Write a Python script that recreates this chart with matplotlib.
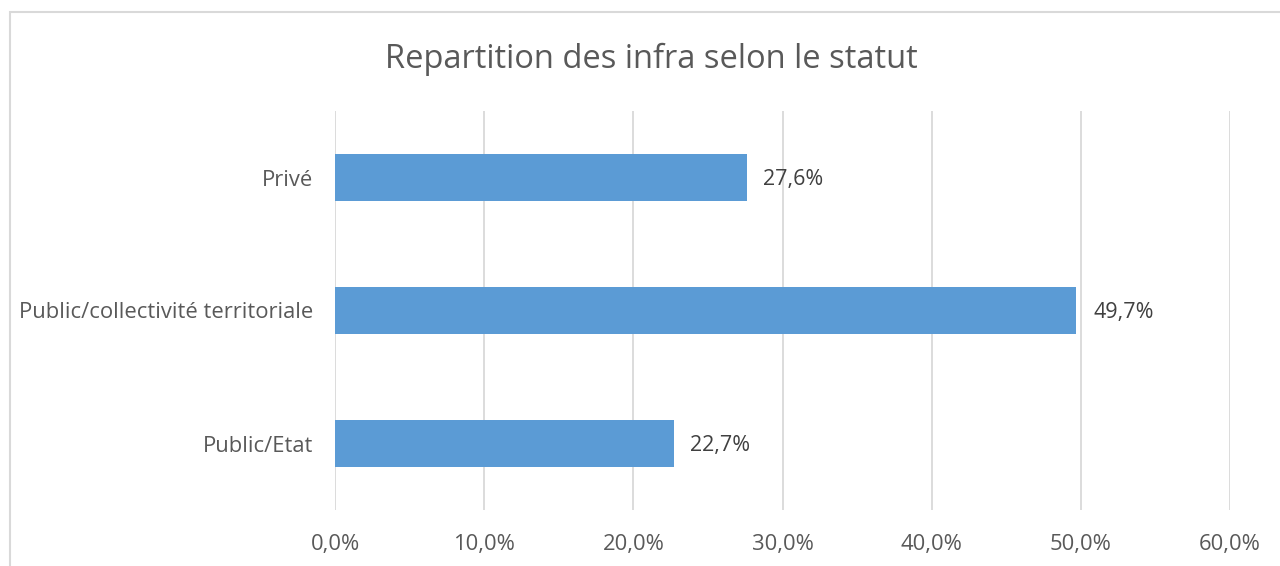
import matplotlib
matplotlib.use("Agg")
import matplotlib.pyplot as plt
from matplotlib.patches import Rectangle

categories = ["Public/Etat", "Public/collectivité territoriale", "Privé"]
values = [22.7, 49.7, 27.6]
xticks = [0, 10, 20, 30, 40, 50, 60]

bar_color = "#5B9BD5"
text_color = "#595959"
grid_color = "#D9D9D9"

plt.rcParams['font.family'] = ['Open Sans', 'DejaVu Sans']

fig = plt.figure(figsize=(12.8, 5.66), dpi=100)
ax = fig.add_axes([335 / 1280, 1 - 510 / 566, (1230 - 335) / 1280, (510 - 111) / 566])

ypos = range(len(categories))
bars = ax.barh(ypos, values, height=0.355, color=bar_color, zorder=3)

for b, v in zip(bars, values):
    ax.annotate(f"{v:.1f}%".replace(".", ","), (b.get_width(), b.get_y() + b.get_height() / 2),
                xytext=(12, -1.5), textcoords="offset points", va="center", ha="left",
                fontsize=15.5, color="#404040")

ax.set_xlim(0, 60)
ax.set_ylim(-0.5, len(categories) - 0.5)
ax.set_xticks(xticks)
ax.set_xticklabels([f"{t:.1f}%".replace(".", ",") for t in xticks])
ax.set_yticks(list(ypos))
ax.set_yticklabels(categories)
ax.tick_params(axis="both", length=0, labelsize=15.8, labelcolor=text_color)
ax.tick_params(axis="x", pad=17)
ax.tick_params(axis="y", pad=16)
ax.grid(axis="x", color=grid_color, linewidth=1.3, zorder=0)
for s in ax.spines.values():
    s.set_visible(False)

fig.text(651 / 1280, 1 - 59 / 566, "Repartition des infra selon le statut",
         ha="center", va="center", fontsize=23.5, color=text_color)

# chart frame (only left and top edges fall inside the picture)
fig.patches.append(Rectangle((10 / 1280, -0.1), 2, 1 - 12 / 566 + 0.1, fill=False,
                             edgecolor=grid_color, linewidth=1.5, transform=fig.transFigure))

fig.savefig("out.png", dpi=100)
